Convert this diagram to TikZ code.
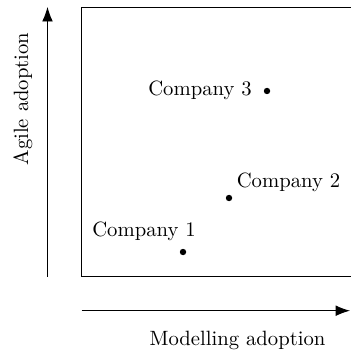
\documentclass[tikz,border=0pt]{standalone}
\usetikzlibrary{arrows.meta}
\tikzset{
  axis/.style={line width=0.45pt,-{Latex[length=7pt,width=5.2pt]}},
  frame/.style={line width=0.45pt},
  dot/.style={circle,fill=black,inner sep=0pt,minimum size=3.1pt},
  lbl/.style={anchor=base,inner sep=0pt,font=\normalsize}
}
\begin{document}
\begin{tikzpicture}[x=0.017cm,y=-0.017cm]
\useasboundingbox (0,0) rectangle (350,351);
% frame (right side outside the picture)
\draw[frame] (352,7.5) -- (81.5,7.5) -- (81.5,276.5) -- (352,276.5);
% axes
\coordinate (va) at (47.5,276.5);
\coordinate (vb) at (47.5,7);
\coordinate (ha) at (81.5,310.7);
\coordinate (hb) at (350,310.7);
\draw[axis] (va) -- (vb);
\draw[axis] (ha) -- (hb);
\node[lbl,rotate=90] (ylab) at (28,99) {Agile adoption};
\node[lbl] (xlab) at (237.5,345) {Modelling adoption};
% companies
\node[dot] (c3) at (267,91) {};
\node[dot] (c2) at (229,198) {};
\node[dot] (c1) at (183,252) {};
\node[lbl] (l3) at (200,96) {Company 3};
\node[lbl] (l2) at (288.5,188) {Company 2};
\node[lbl] (l1) at (144,236) {Company 1};
\end{tikzpicture}
\end{document}
